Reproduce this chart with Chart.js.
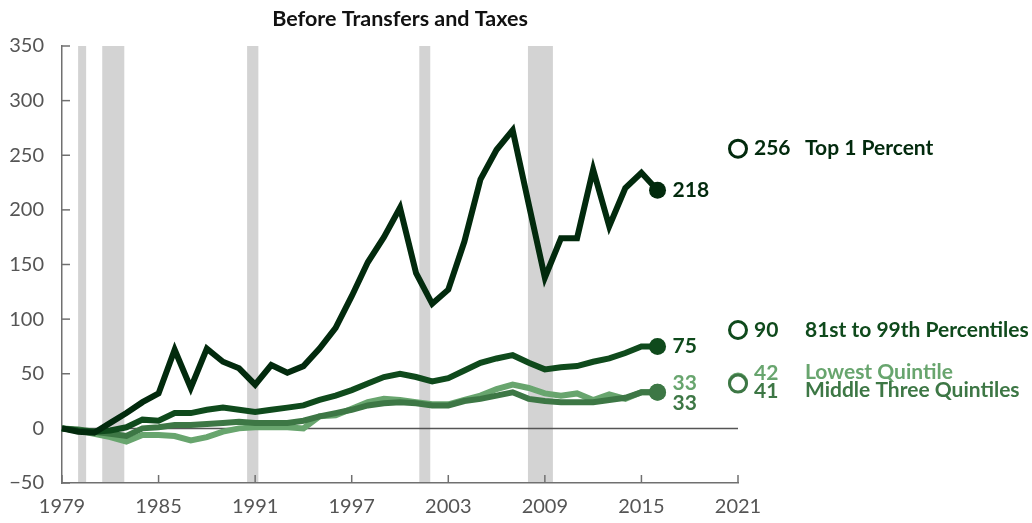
<!DOCTYPE html>
<html>
<head>
<meta charset="utf-8">
<script src="https://cdn.jsdelivr.net/npm/chart.js@4.4.1/dist/chart.umd.min.js"></script>
<style>
html,body{margin:0;padding:0;background:#fff;}
#wrap{width:1032px;height:523px;position:relative;}
</style>
</head>
<body>
<div id="wrap"><canvas id="c" width="1032" height="523"></canvas></div>
<script>
// ---- data ----
const years = [1979,1980,1981,1982,1983,1984,1985,1986,1987,1988,1989,1990,1991,1992,1993,1994,1995,1996,1997,1998,1999,2000,2001,2002,2003,2004,2005,2006,2007,2008,2009,2010,2011,2012,2013,2014,2015,2016];
const top1 = [0,-3,-4,5,14,24,32,72,37,73,61,55,40,58,51,57,73,92,121,152,175,202,142,114,127,171,228,255,273,205,138,174,174,237,185,220,234,218];
const p81to99 = [0,-2,-3,-2,1,8,7,14,14,17,19,17,15,17,19,21,26,30,35,41,47,50,47,43,46,53,60,64,67,60,54,56,57,61,64,69,75,75];
const middle3 = [0,-1,-3,-5,-7,0,1,3,3,4,5,6,5,5,5,7,11,14,17,21,23,24,23,21,21,25,27,30,33,27,25,24,24,24,26,28,33,33];
const lowest = [0,-2,-5,-8,-12,-6,-6,-7,-11,-8,-3,0,1,1,1,0,11,12,18,24,27,26,24,22,22,26,30,36,40,37,32,30,32,26,31,27,33,33];
const projYear = 2021;
const projTop1 = 256, proj81to99 = 90, projLowest = 42, projMiddle3 = 41;
const seriesNames = ['Top 1 Percent','81st to 99th Percentiles','Lowest Quintile','Middle Three Quintiles'];
const recessionStart = [1980.0, 1981.5, 1990.5, 2001.2, 2007.95];
const recessionEnd   = [1980.5, 1982.87, 1991.2, 2001.88, 2009.5];
const xTickYears = [1979,1985,1991,1997,2003,2009,2015,2021];
const yTickValues = [-50,0,50,100,150,200,250,300,350];
const title = 'Before Transfers and Taxes';

const C_TOP = '#022a0d', C_81 = '#0f4a1c', C_MID = '#3d7745', C_LOW = '#68a56e';
const FONT = 'Lato, "Open Sans", sans-serif';

function pts(arr){ return arr.map((v,i)=>({x:years[i], y:v})); }
function lastRadius(n,r){ return ctx => ctx.dataIndex === n-1 ? r : 0; }

const lineDs = (label, arr, color, w) => ({
  label, data: pts(arr), borderColor: color, backgroundColor: color,
  borderWidth: w, pointRadius: lastRadius(arr.length, 8.5), pointBorderWidth: 0,
  pointHoverRadius: 0, tension: 0, borderJoinStyle: 'miter', borderCapStyle: 'butt', clip: false
});
const ringDs = (label, v, color) => ({
  label, data: [{x: projYear, y: v}], showLine: false, borderColor: color,
  backgroundColor: '#fff', pointRadius: 8.5, pointBorderWidth: 3, pointHoverRadius: 0, clip: false
});

const decor = {
  id: 'decor',
  beforeDraw(chart){
    const {ctx, chartArea:a, scales:{x}} = chart;
    ctx.save();
    ctx.fillStyle = '#d3d3d3';
    for (let i=0;i<recessionStart.length;i++){
      const x0 = x.getPixelForValue(recessionStart[i]);
      const x1 = x.getPixelForValue(recessionEnd[i]);
      ctx.fillRect(x0, a.top, x1-x0, a.bottom-a.top);
    }
    ctx.restore();
  },
  beforeDatasetsDraw(chart){
    const {ctx, chartArea:a, scales:{x,y}} = chart;
    ctx.save();
    ctx.strokeStyle = '#555';
    ctx.lineWidth = 1.5;
    const y0 = y.getPixelForValue(0);
    ctx.beginPath(); ctx.moveTo(a.left, y0); ctx.lineTo(a.right, y0); ctx.stroke();
    ctx.strokeStyle = '#707070';
    ctx.lineWidth = 1.5;
    yTickValues.forEach(v=>{
      const py = y.getPixelForValue(v);
      ctx.beginPath(); ctx.moveTo(a.left, py); ctx.lineTo(a.left+8, py); ctx.stroke();
    });
    xTickYears.forEach(v=>{
      const px = x.getPixelForValue(v);
      ctx.beginPath(); ctx.moveTo(px, a.bottom); ctx.lineTo(px, a.bottom-8); ctx.stroke();
    });
    ctx.restore();
  },
  afterDatasetsDraw(chart){
    const {ctx, chartArea:a, scales:{x,y}} = chart;
    ctx.save();
    ctx.textBaseline = 'middle';
    // title
    ctx.font = 'bold 21.5px ' + FONT;
    ctx.fillStyle = '#111';
    ctx.textAlign = 'center';
    ctx.fillText(title, (a.left+a.right)/2, 19);
    ctx.textAlign = 'left';
    ctx.font = 'bold 21px ' + FONT;
    // end labels
    const ex = x.getPixelForValue(years[years.length-1]) + 15;
    const L = arr => arr[arr.length-1];
    ctx.fillStyle = C_TOP; ctx.fillText(String(L(top1)), ex, y.getPixelForValue(L(top1)));
    ctx.fillStyle = C_81;  ctx.fillText(String(L(p81to99)), ex, y.getPixelForValue(L(p81to99)));
    ctx.fillStyle = C_LOW; ctx.fillText(String(L(lowest)), ex, y.getPixelForValue(L(lowest)) - 9);
    ctx.fillStyle = C_MID; ctx.fillText(String(L(middle3)), ex, y.getPixelForValue(L(middle3)) + 11);
    // projection labels
    const nx = x.getPixelForValue(projYear) + 16;
    const tx = nx + 51;
    ctx.fillStyle = C_TOP;
    let py = y.getPixelForValue(projTop1);
    ctx.fillText(String(projTop1), nx, py); ctx.fillText(seriesNames[0], tx, py);
    ctx.fillStyle = C_81;
    py = y.getPixelForValue(proj81to99);
    ctx.fillText(String(proj81to99), nx, py); ctx.fillText(seriesNames[1], tx, py);
    ctx.fillStyle = C_LOW;
    py = y.getPixelForValue(projLowest) - 9.5;
    ctx.fillText(String(projLowest), nx, py); ctx.fillText(seriesNames[2], tx, py - 1);
    ctx.fillStyle = C_MID;
    py = y.getPixelForValue(projMiddle3) + 8;
    ctx.fillText(String(projMiddle3), nx, py); ctx.fillText(seriesNames[3], tx, py - 1);
    ctx.restore();
  }
};

// Chart.js paints dataset 0 last (on top), so the list runs top layer first.
new Chart(document.getElementById('c'), {
  type: 'line',
  data: {
    datasets: [
      ringDs(seriesNames[0], projTop1, C_TOP),
      ringDs(seriesNames[1], proj81to99, C_81),
      ringDs(seriesNames[3], projMiddle3, C_MID),
      ringDs(seriesNames[2], projLowest, C_LOW),
      lineDs(seriesNames[0], top1, C_TOP, 6),
      lineDs(seriesNames[1], p81to99, C_81, 6),
      lineDs(seriesNames[3], middle3, C_MID, 6),
      lineDs(seriesNames[2], lowest, C_LOW, 6)
    ]
  },
  options: {
    responsive: false,
    animation: false,
    events: [],
    layout: { padding: { top: 46, right: 294, left: 0, bottom: 0 } },
    plugins: { legend: { display: false }, tooltip: { enabled: false }, title: { display: false } },
    scales: {
      x: {
        type: 'linear', min: 1979, max: 2021,
        afterBuildTicks: s => { s.ticks = xTickYears.map(v => ({value: v})); },
        afterFit: s => { s.height = 40; },
        grid: { display: false, drawTicks: false },
        border: { display: true, color: '#707070', width: 1.5 },
        ticks: { padding: 12, color: '#555', font: { family: FONT, size: 20 }, maxRotation: 0, autoSkip: false,
                 callback: v => String(v) }
      },
      y: {
        type: 'linear', min: -50, max: 350,
        afterBuildTicks: s => { s.ticks = yTickValues.map(v => ({value: v})); },
        afterFit: s => { s.width = 62; },
        grid: { display: false, drawTicks: false },
        border: { display: true, color: '#707070', width: 1.5 },
        ticks: { padding: 18, color: '#555', font: { family: FONT, size: 20 },
                 callback: v => String(v).replace('-', '\u2212') }
      }
    }
  },
  plugins: [decor]
});
</script>
</body>
</html>
